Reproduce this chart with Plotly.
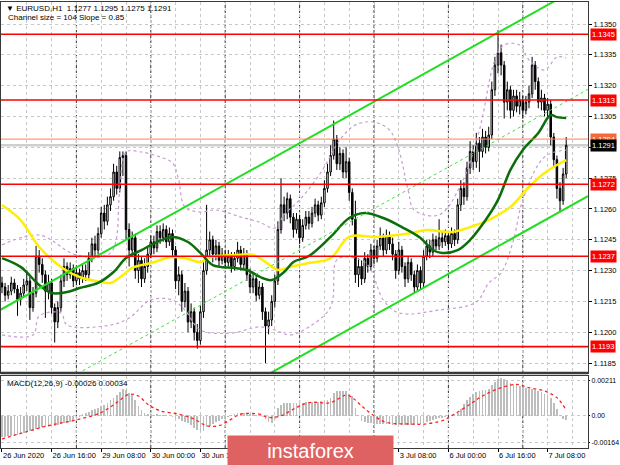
import plotly.graph_objects as go

# ---------------- DATA ----------------
first_open = 1.1224
closes = [
 1.1222,1.1218,1.1220,1.1224,1.1221,1.1216,1.1219,1.1223,1.1225,1.1212,
 1.1219,1.1237,1.1233,1.1228,1.1220,1.1224,1.1212,1.1205,1.1212,1.1225,
 1.1232,1.1228,1.1231,1.1225,1.1229,1.1226,1.1230,1.1228,1.1236,1.1243,
 1.1240,1.1248,1.1258,1.1254,1.1262,1.1266,1.1278,1.1270,1.1285,1.1286,
 1.1250,1.1240,1.1246,1.1230,1.1235,1.1226,1.1232,1.1238,1.1244,1.1241,
 1.1249,1.1246,1.1250,1.1244,1.1248,1.1240,1.1225,1.1228,1.1215,1.1220,
 1.1205,1.1210,1.1200,1.1196,1.1210,1.1230,1.1240,1.1245,1.1238,1.1242,
 1.1235,1.1238,1.1234,1.1237,1.1232,1.1236,1.1240,1.1233,1.1238,1.1228,
 1.1222,1.1226,1.1218,1.1222,1.1210,1.1203,1.1206,1.1215,1.1225,1.1250,
 1.1262,1.1258,1.1265,1.1256,1.1250,1.1255,1.1246,1.1252,1.1256,1.1253,
 1.1258,1.1262,1.1257,1.1263,1.1270,1.1278,1.1286,1.1294,1.1282,1.1287,
 1.1278,1.1283,1.1268,1.1255,1.1228,1.1232,1.1226,1.1236,1.1232,1.1240,
 1.1236,1.1242,1.1246,1.1240,1.1247,1.1243,1.1238,1.1230,1.1240,1.1232,
 1.1226,1.1234,1.1228,1.1222,1.1230,1.1224,1.1237,1.1242,1.1239,1.1245,
 1.1242,1.1246,1.1244,1.1247,1.1243,1.1248,1.1245,1.1262,1.1270,1.1266,
 1.1280,1.1288,1.1283,1.1292,1.1288,1.1295,1.1290,1.1296,1.1318,1.1330,
 1.1336,1.1330,1.1312,1.1318,1.1308,1.1315,1.1310,1.1313,1.1308,1.1312,
 1.1316,1.1330,1.1322,1.1312,1.1314,1.1308,1.1311,1.1295,1.1284,1.1270,
 1.1264,1.1277,1.1291]
highs = [
 1.1227,1.1224,1.1223,1.1227,1.1226,1.1223,1.1222,1.1226,1.1229,1.1227,
 1.1222,1.1242,1.1240,1.1236,1.1230,1.1228,1.1226,1.1214,1.1215,1.1228,
 1.1236,1.1234,1.1234,1.1233,1.1232,1.1231,1.1233,1.1233,1.1239,1.1246,
 1.1247,1.1251,1.1261,1.1262,1.1266,1.1270,1.1282,1.1281,1.1288,1.1288,
 1.1288,1.1253,1.1249,1.1248,1.1238,1.1237,1.1236,1.1241,1.1247,1.1247,
 1.1252,1.1252,1.1253,1.1252,1.1251,1.1250,1.1242,1.1232,1.1230,1.1224,
 1.1222,1.1214,1.1212,1.1204,1.1213,1.1234,1.1262,1.1249,1.1247,1.1245,
 1.1244,1.1241,1.1240,1.1240,1.1239,1.1239,1.1244,1.1242,1.1241,1.1240,
 1.1231,1.1229,1.1228,1.1225,1.1224,1.1212,1.1210,1.1218,1.1228,1.1254,
 1.1275,1.1266,1.1268,1.1267,1.1258,1.1258,1.1257,1.1255,1.1259,1.1259,
 1.1261,1.1265,1.1264,1.1266,1.1274,1.1282,1.1291,1.1303,1.1296,1.1290,
 1.1289,1.1290,1.1285,1.1270,1.1264,1.1236,1.1235,1.1239,1.1238,1.1243,
 1.1242,1.1245,1.1251,1.1248,1.1250,1.1249,1.1246,1.1240,1.1244,1.1242,
 1.1234,1.1237,1.1236,1.1230,1.1233,1.1232,1.1240,1.1245,1.1245,1.1248,
 1.1247,1.1255,1.1249,1.1250,1.1249,1.1251,1.1250,1.1265,1.1274,1.1273,
 1.1283,1.1293,1.1291,1.1297,1.1295,1.1299,1.1298,1.1300,1.1322,1.1334,
 1.1347,1.1340,1.1332,1.1322,1.1320,1.1318,1.1318,1.1317,1.1315,1.1315,
 1.1320,1.1334,1.1332,1.1324,1.1318,1.1316,1.1314,1.1313,1.1297,1.1286,
 1.1273,1.1280,1.1295]
lows = [
 1.1219,1.1215,1.1216,1.1218,1.1219,1.1208,1.1213,1.1217,1.1220,1.1206,
 1.1210,1.1217,1.1229,1.1224,1.1207,1.1216,1.1209,1.1195,1.1202,1.1210,
 1.1222,1.1225,1.1226,1.1222,1.1223,1.1223,1.1224,1.1225,1.1226,1.1234,
 1.1237,1.1238,1.1246,1.1250,1.1252,1.1259,1.1264,1.1267,1.1268,1.1276,
 1.1245,1.1232,1.1237,1.1226,1.1224,1.1222,1.1224,1.1229,1.1236,1.1238,
 1.1239,1.1243,1.1244,1.1241,1.1242,1.1237,1.1221,1.1218,1.1210,1.1212,
 1.1200,1.1202,1.1196,1.1192,1.1194,1.1207,1.1228,1.1236,1.1234,1.1235,
 1.1232,1.1233,1.1231,1.1232,1.1229,1.1230,1.1234,1.1230,1.1231,1.1225,
 1.1219,1.1219,1.1215,1.1216,1.1206,1.1185,1.1199,1.1203,1.1212,1.1223,
 1.1248,1.1254,1.1255,1.1253,1.1246,1.1248,1.1243,1.1244,1.1250,1.1250,
 1.1251,1.1256,1.1254,1.1255,1.1261,1.1268,1.1276,1.1284,1.1279,1.1279,
 1.1275,1.1275,1.1264,1.1252,1.1224,1.1222,1.1223,1.1224,1.1229,1.1230,
 1.1233,1.1234,1.1240,1.1237,1.1238,1.1240,1.1235,1.1226,1.1228,1.1229,
 1.1222,1.1224,1.1225,1.1219,1.1220,1.1221,1.1222,1.1235,1.1236,1.1237,
 1.1240,1.1240,1.1241,1.1242,1.1240,1.1241,1.1242,1.1243,1.1259,1.1262,
 1.1264,1.1277,1.1279,1.1280,1.1278,1.1285,1.1287,1.1288,1.1294,1.1315,
 1.1326,1.1325,1.1304,1.1308,1.1304,1.1305,1.1307,1.1306,1.1304,1.1306,
 1.1309,1.1314,1.1318,1.1309,1.1308,1.1305,1.1304,1.1291,1.1280,1.1265,
 1.1259,1.1262,1.1275]

# slow (yellow) and fast (dark green) moving averages, read at sample bars
ma_yellow_x = [0,6,12,19,25,32,35,39,42,48,55,60,64,67,75,81,85,89,93,99,106,112,121,132,137,145,153,157,164,170,175,179,182]
ma_yellow_y = [1.12619,1.12546,1.12415,1.12318,1.12269,1.12245,1.12240,1.12279,1.12313,1.12337,1.12366,1.12356,1.12342,1.12366,1.12376,1.12376,1.12342,1.12303,1.12318,1.12337,1.12361,1.12464,1.12464,1.12483,1.12498,1.12488,1.12522,1.12546,1.12610,1.12707,1.12775,1.12814,1.12838]
ma_green_x = [0,6,12,16,21,25,31,36,40,45,50,55,60,64,68,75,79,84,87,91,94,99,106,112,117,123,129,135,139,142,147,151,156,160,164,168,173,177,179,182]
ma_green_y = [1.12361,1.12318,1.12230,1.12191,1.12196,1.12215,1.12240,1.12293,1.12361,1.12400,1.12439,1.12464,1.12439,1.12386,1.12327,1.12313,1.12303,1.12264,1.12254,1.12293,1.12342,1.12371,1.12464,1.12556,1.12580,1.12556,1.12512,1.12459,1.12400,1.12386,1.12400,1.12449,1.12546,1.12644,1.12790,1.12887,1.12970,1.13057,1.13047,1.13043]

# envelope bands (purple dotted)
band_up_x = [0,12,24,35,38,40,45,51,55,57,59,64,69,77,83,88,91,96,103,109,114,120,125,128,131,133,141,148,154,159,162,167,170,175,179,182]
band_up_y = [1.12425,1.12473,1.12376,1.12386,1.12692,1.12877,1.12877,1.12853,1.12824,1.12741,1.12609,1.12585,1.12595,1.12561,1.12536,1.12507,1.12571,1.12644,1.12780,1.12936,1.13009,1.13023,1.12984,1.12887,1.12692,1.12595,1.12571,1.12717,1.12984,1.13325,1.13398,1.13398,1.13325,1.13276,1.13339,1.13335]
band_lo_x = [0,10,12,19,21,35,41,48,55,59,64,74,83,88,93,99,106,108,112,118,123,128,141,153,157,161,165,168,175,182]
band_lo_y = [1.11987,1.11987,1.12079,1.12094,1.12035,1.12035,1.12069,1.12157,1.12157,1.12108,1.12011,1.11996,1.12026,1.12011,1.11987,1.12026,1.12123,1.12352,1.12366,1.12327,1.12157,1.12094,1.12108,1.12147,1.12240,1.12289,1.12449,1.12644,1.12853,1.12887]

# regression channel end points (bar index, price)
chan_x = [-1, 189]
chan_upper = [1.12105, 1.13702]
chan_width = 0.0104

# horizontal levels
red_levels = [1.1345, 1.1313, 1.1272, 1.1237, 1.1193]
orange_level = 1.1294
bid_level = 1.1291

# MACD histogram (one per bar) and signal line samples
macd_main = [
 -0.00130,-0.00128,-0.00125,-0.00122,-0.00118,-0.00115,-0.00110,-0.00104,-0.00098,-0.00095,
 -0.00090,-0.00080,-0.00072,-0.00068,-0.00066,-0.00062,-0.00060,-0.00062,-0.00058,-0.00052,
 -0.00046,-0.00042,-0.00036,-0.00028,-0.00015,-0.00005,0.00008,0.00016,0.00024,0.00034,
 0.00040,0.00050,0.00060,0.00068,0.00080,0.00095,0.00110,0.00125,0.00142,0.00163,
 0.00155,0.00140,0.00128,0.00095,0.00060,0.00035,0.00020,0.00010,0.00008,0.00006,
 0.00008,0.00006,0.00005,0.00002,0.00000,-0.00005,-0.00015,-0.00022,-0.00030,-0.00038,
 -0.00045,-0.00058,-0.00072,-0.00088,-0.00100,-0.00092,-0.00070,-0.00060,-0.00048,-0.00040,
 -0.00030,-0.00022,-0.00018,-0.00008,0.00002,0.00010,0.00016,0.00020,0.00018,0.00012,
 0.00008,0.00010,0.00005,0.00002,-0.00010,-0.00020,-0.00035,-0.00045,-0.00020,0.00050,
 0.00065,0.00075,0.00080,0.00078,0.00076,0.00080,0.00078,0.00080,0.00082,0.00080,
 0.00082,0.00084,0.00085,0.00088,0.00090,0.00095,0.00110,0.00140,0.00148,0.00150,
 0.00152,0.00150,0.00135,0.00118,0.00050,0.00005,-0.00030,-0.00040,-0.00042,-0.00045,
 -0.00048,-0.00050,-0.00050,-0.00052,-0.00050,-0.00052,-0.00053,-0.00055,-0.00052,-0.00054,
 -0.00055,-0.00053,-0.00055,-0.00058,-0.00052,-0.00048,-0.00042,-0.00035,-0.00030,-0.00025,
 -0.00020,-0.00015,-0.00012,-0.00008,-0.00002,0.00002,0.00008,0.00020,0.00040,0.00070,
 0.00095,0.00115,0.00130,0.00145,0.00150,0.00155,0.00158,0.00162,0.00185,0.00205,
 0.00225,0.00228,0.00220,0.00210,0.00200,0.00195,0.00188,0.00180,0.00172,0.00168,
 0.00162,0.00160,0.00158,0.00150,0.00142,0.00132,0.00120,0.00105,0.00075,0.00040,
 0.00005,-0.00020,-0.00026]
signal_x = [0,10,16,24,32,37,41,44,47,51,57,62,66,70,74,77,83,86,90,94,99,106,111,113,116,120,124,132,136,142,145,151,155,161,166,170,175,179,182]
signal_y = [-0.0014,-0.00085,-0.00055,-0.00025,0.0002,0.0008,0.0013,0.0012,0.0007,0.0003,0.0001,-0.0002,-0.0006,-0.0006,-0.0002,0.0001,0.0001,-0.0001,0.0,0.0004,0.0008,0.0008,0.00125,0.0011,0.0006,0.0,-0.0004,-0.0005,-0.0005,-0.0003,0.0,0.0007,0.0012,0.0017,0.0019,0.0017,0.0015,0.0011,0.00034]

# axes labels
price_ticks = [1.1185,1.1200,1.1215,1.1230,1.1245,1.1260,1.1275,1.1290,1.1305,1.1320,1.1335,1.1350]
time_label_idx = [0,16,32,48,64,80,96,112,128,144,160,176]
time_labels = ["26 Jun 2020","26 Jun 16:00","29 Jun 08:00","30 Jun 00:00","30 Jun 16:00","1 Jul 08:00",
               "2 Jul 00:00","2 Jul 16:00","3 Jul 08:00","6 Jul 00:00","6 Jul 16:00","7 Jul 08:00"]
day_start_idx = [24,48,72,96,120,144,168]
macd_ticks = [0.00211, 0.0, -0.00164]
macd_tick_text = ["0.00211", "0.00", "-0.00164"]

header_line1 = "▼ EURUSD,H1  1.1277 1.1295 1.1275 1.1291"
header_line2 = "Channel size = 104 Slope = 0.85"
macd_label = "MACD(12,26,9) -0.00026 0.00034"

# ---------------- FIGURE ----------------
W, H = 620, 465
FONT = "Liberation Sans"
idx = list(range(len(closes)))
opens = [first_open] + closes[:-1]

def px_x(p):
    return p / W

def px_y(p):
    return 1 - p / H

x_dom = [px_x(1), px_x(588)]
x_rng = [-0.32, 189.03]
main_dom = [px_y(373), px_y(2)]
macd_dom = [px_y(448), px_y(376)]

fig = go.Figure()

fig.add_trace(go.Candlestick(
    x=idx, open=opens, high=highs, low=lows, close=closes,
    xaxis="x", yaxis="y", whiskerwidth=0,
    increasing=dict(line=dict(color="#000000", width=1), fillcolor="#ffffff"),
    decreasing=dict(line=dict(color="#000000", width=1), fillcolor="#000000"),
    showlegend=False, hoverinfo="skip"))

dot_purple = dict(color="#c99ad6", width=1.2, dash="dot")
fig.add_trace(go.Scatter(x=band_up_x, y=band_up_y, mode="lines", line=dot_purple,
                         line_shape="spline", xaxis="x", yaxis="y", showlegend=False, hoverinfo="skip"))
fig.add_trace(go.Scatter(x=band_lo_x, y=band_lo_y, mode="lines", line=dot_purple,
                         line_shape="spline", xaxis="x", yaxis="y", showlegend=False, hoverinfo="skip"))

fig.add_trace(go.Scatter(x=ma_yellow_x, y=ma_yellow_y, mode="lines", line_shape="spline",
                         line=dict(color="#ffee00", width=2.5), xaxis="x", yaxis="y",
                         showlegend=False, hoverinfo="skip"))
fig.add_trace(go.Scatter(x=ma_green_x, y=ma_green_y, mode="lines", line_shape="spline",
                         line=dict(color="#0b6e0b", width=2.5), xaxis="x", yaxis="y",
                         showlegend=False, hoverinfo="skip"))

chan_lower = [v - chan_width for v in chan_upper]
chan_mid = [v - chan_width / 2 for v in chan_upper]
fig.add_trace(go.Scatter(x=chan_x, y=chan_upper, mode="lines", line=dict(color="#22dd22", width=2),
                         xaxis="x", yaxis="y", showlegend=False, hoverinfo="skip"))
fig.add_trace(go.Scatter(x=chan_x, y=chan_lower, mode="lines", line=dict(color="#22dd22", width=2),
                         xaxis="x", yaxis="y", showlegend=False, hoverinfo="skip"))
fig.add_trace(go.Scatter(x=chan_x, y=chan_mid, mode="lines", line=dict(color="#44dd44", width=1, dash="dot"),
                         xaxis="x", yaxis="y", showlegend=False, hoverinfo="skip"))

# MACD
fig.add_trace(go.Bar(x=idx, y=macd_main, marker=dict(color="#bdbdbd", line=dict(width=0)), width=0.55,
                     xaxis="x2", yaxis="y2", showlegend=False, hoverinfo="skip"))
fig.add_trace(go.Scatter(x=signal_x, y=signal_y, mode="lines", line_shape="spline",
                         line=dict(color="#ff2020", width=1.3, dash="dot"),
                         xaxis="x2", yaxis="y2", showlegend=False, hoverinfo="skip"))

shapes = []
shapes.append(dict(type="line", xref="x domain", yref="y", x0=0, x1=1, y0=bid_level, y1=bid_level,
                   line=dict(color="#cfcfcf", width=2.5), layer="below"))
for lv in red_levels:
    shapes.append(dict(type="line", xref="x domain", yref="y", x0=0, x1=1, y0=lv, y1=lv,
                       line=dict(color="#ff0000", width=1.6), layer="above"))
shapes.append(dict(type="line", xref="x domain", yref="y", x0=0, x1=1, y0=orange_level, y1=orange_level,
                   line=dict(color="#ff8050", width=1), layer="above"))
for d in day_start_idx:
    shapes.append(dict(type="line", xref="x", yref="y domain", x0=d, x1=d, y0=0, y1=1,
                       line=dict(color="#333333", width=1, dash="3px,2px"), layer="below"))
    shapes.append(dict(type="line", xref="x2", yref="y2 domain", x0=d, x1=d, y0=0, y1=1,
                       line=dict(color="#333333", width=1, dash="3px,2px"), layer="below"))
shapes.append(dict(type="line", xref="paper", yref="paper", x0=x_dom[0], x1=x_dom[1],
                   y0=main_dom[0], y1=main_dom[0], line=dict(color="#3a3a3a", width=2.5), layer="above"))

annotations = []
for lv in red_levels:
    annotations.append(dict(x=px_x(590), xref="paper", y=lv, yref="y", xanchor="left", yanchor="middle",
                            text=f"{lv:.4f}", showarrow=False, bgcolor="#ff0000", borderpad=1,
                            font=dict(family=FONT, size=7.5, color="#ffffff")))
annotations.append(dict(x=px_x(590), xref="paper", y=orange_level, yref="y", xanchor="left", yanchor="middle",
                        text=f"{orange_level:.4f}", showarrow=False, bgcolor="#f26a3a", borderpad=1,
                        font=dict(family=FONT, size=7.5, color="#ffffff")))
annotations.append(dict(x=px_x(590), xref="paper", y=bid_level, yref="y", xanchor="left", yanchor="middle",
                        text=f"{bid_level:.4f}", showarrow=False, bgcolor="#000000", borderpad=1,
                        font=dict(family=FONT, size=7.5, color="#ffffff")))
annotations.append(dict(x=px_x(4), xref="paper", y=px_y(8), yref="paper", xanchor="left", yanchor="middle",
                        text=header_line1, showarrow=False, font=dict(family=FONT, size=8, color="#000000")))
annotations.append(dict(x=px_x(6), xref="paper", y=px_y(18), yref="paper", xanchor="left", yanchor="middle",
                        text=header_line2, showarrow=False, font=dict(family=FONT, size=8, color="#000000")))
annotations.append(dict(x=px_x(5), xref="paper", y=px_y(383), yref="paper", xanchor="left", yanchor="middle",
                        text=macd_label, showarrow=False, font=dict(family=FONT, size=8, color="#000000")))
annotations.append(dict(x=px_x(310.5), xref="paper", y=px_y(450), yref="paper", xanchor="center", yanchor="middle",
                        text="instaforex", showarrow=False, bgcolor="#df6262", borderpad=0,
                        width=165, height=29, font=dict(family=FONT, size=20, color="#ffffff")))

grid_col = "#c8c8c8"
fig.update_layout(
    width=W, height=H, autosize=False,
    margin=dict(l=0, r=0, t=0, b=0, autoexpand=False),
    paper_bgcolor="#ffffff", plot_bgcolor="#ffffff",
    font=dict(family=FONT, size=7.5, color="#000000"),
    bargap=0, showlegend=False,
    xaxis=dict(domain=x_dom, range=x_rng, anchor="y", rangeslider=dict(visible=False),
               showticklabels=False, ticks="", tick0=0, dtick=8,
               showgrid=True, gridcolor=grid_col, griddash="dot", gridwidth=1,
               showline=True, mirror=True, linecolor="#3a3a3a", linewidth=1, zeroline=False),
    yaxis=dict(domain=main_dom, range=[1.118017, 1.136071], side="right", anchor="x",
               tickvals=price_ticks, ticktext=[f"{v:.4f}" for v in price_ticks],
               ticks="outside", ticklen=3, tickcolor="#000000",
               showgrid=True, gridcolor=grid_col, griddash="dot", gridwidth=1,
               showline=True, mirror=True, linecolor="#3a3a3a", linewidth=1, zeroline=False,
               tickfont=dict(family=FONT, size=7.5, color="#000000")),
    xaxis2=dict(domain=x_dom, range=x_rng, anchor="y2", matches="x",
                tickvals=time_label_idx, ticktext=time_labels, ticklabelposition="outside right",
                tickangle=0,
                ticks="outside", ticklen=3, tickcolor="#000000",
                tickfont=dict(family=FONT, size=7.5, color="#000000"),
                showgrid=True, gridcolor=grid_col, griddash="dot",
                minor=dict(dtick=8, tick0=0, showgrid=True, gridcolor=grid_col, griddash="dot"),
                showline=True, mirror=True, linecolor="#3a3a3a", linewidth=1, zeroline=False),
    yaxis2=dict(domain=macd_dom, range=[-0.00195, 0.00241], side="right", anchor="x2",
                tickvals=macd_ticks, ticktext=macd_tick_text,
                ticks="outside", ticklen=1, tickcolor="#000000",
                tickfont=dict(family=FONT, size=7, color="#000000"),
                showgrid=True, gridcolor=grid_col, griddash="dot",
                showline=True, mirror=True, linecolor="#3a3a3a", linewidth=1, zeroline=False),
    shapes=shapes, annotations=annotations,
)

fig.write_html("out.html", config={"displayModeBar": False, "staticPlot": True},
               post_script="document.body.style.margin='0px';document.body.style.overflow='hidden';")
